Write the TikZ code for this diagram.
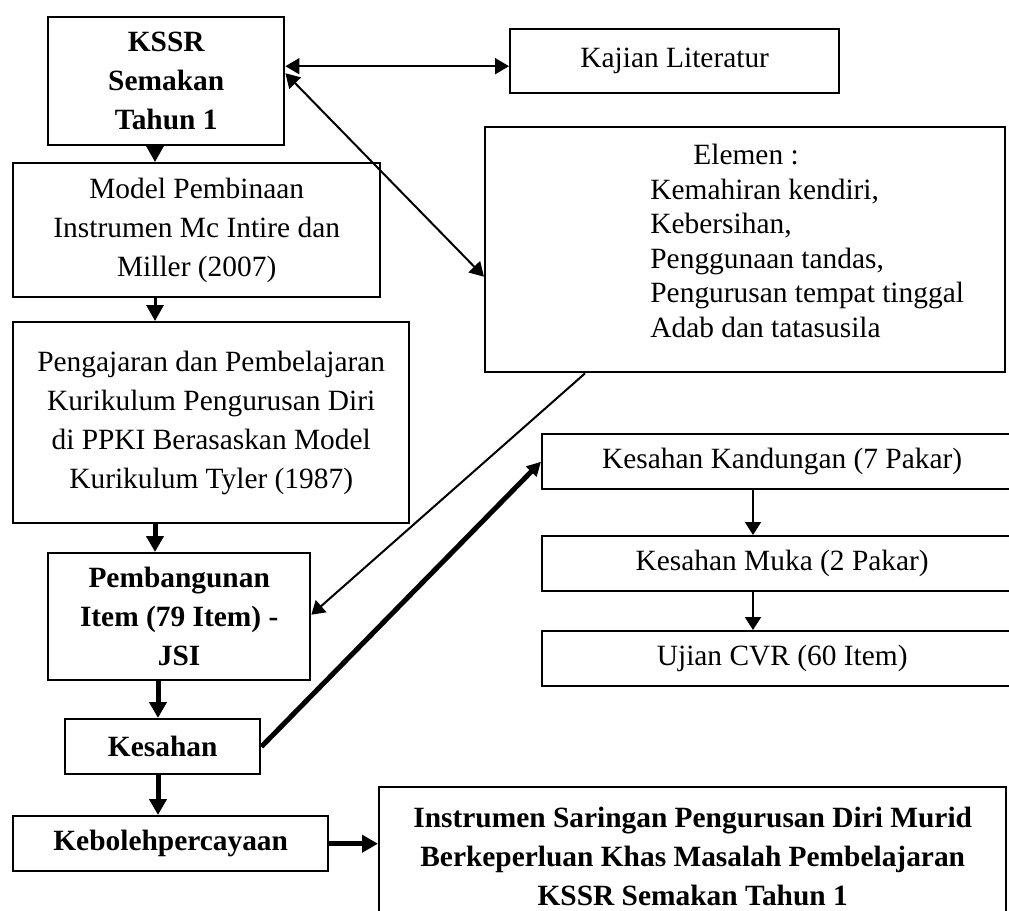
\documentclass[tikz,border=0pt]{standalone}
\usepackage{fontspec}
\setmainfont{Liberation Serif}
\usetikzlibrary{arrows.meta}
\tikzset{
  box/.style={draw,line width=1.2pt,inner sep=2pt,align=center,anchor=north west,
    font=\fontsize{14.7}{19.5}\selectfont},
  boldbox/.style={box,font=\fontsize{14.7}{19.5}\selectfont\bfseries},
  arr/.style={-{Triangle[length=8pt,width=8.5pt]},line width=1.5pt},
  thickarr/.style={-{Triangle[length=8pt,width=8.5pt]},line width=2.5pt},
  thinarr/.style={-{Triangle[length=6.5pt,width=8pt]},line width=1pt},
  eq/.style={{Triangle[length=7pt,width=8pt]}-{Triangle[length=7pt,width=8pt]},line width=1pt},
}

\begin{document}
\begin{tikzpicture}[x=0.5pt,y=-0.5pt]
  \useasboundingbox (0,0) rectangle (1009,911);
  \clip (0,0) rectangle (1009,911);
  % left column
  \node[boldbox,minimum width=118pt,minimum height=64pt] (kssr) at (47,16) {KSSR\\Semakan\\Tahun 1};
  \node[box,minimum width=183.5pt,minimum height=67pt] (model) at (12,162)
    {Model Pembinaan\\Instrumen Mc Intire dan\\Miller (2007)};
  \node[box,minimum width=198pt,minimum height=100.5pt] (ajar) at (12,321)
    {Pengajaran dan Pembelajaran\\Kurikulum Pengurusan Diri\\di PPKI Berasaskan Model\\Kurikulum Tyler (1987)};
  \node[boldbox,minimum width=131pt,minimum height=63.5pt] (bina) at (47,552)
    {Pembangunan\\Item (79 Item) -\\JSI};
  \node[boldbox,minimum width=97.5pt,minimum height=27.5pt] (sah) at (64,718) {Kesahan};
  \node[boldbox,minimum width=157.5pt,minimum height=27.5pt] (boleh) at (12,815) {Kebolehpercayaan};
  \node[boldbox,minimum width=313.5pt,minimum height=69pt] (hasil) at (378,786)
    {Instrumen Saringan Pengurusan Diri Murid\\Berkeperluan Khas Masalah Pembelajaran\\KSSR Semakan Tahun 1};
  % right side
  \node[box,minimum width=164.5pt,minimum height=32pt] (kajian) at (509,28) {Kajian Literatur};
  \node[box,minimum width=260pt,minimum height=122.5pt] (elemen) at (484,126) {};
  \node[anchor=north west,inner sep=0pt,align=left,font=\fontsize{14.7}{17.25}\selectfont]
    (elemlist) at (650,144)
    {\hspace*{21.5pt}Elemen :\\Kemahiran kendiri,\\Kebersihan,\\Penggunaan tandas,\\Pengurusan tempat tinggal\\Adab dan tatasusila};
  \node[box,minimum width=240pt,minimum height=27.5pt] (kandung) at (541,433) {Kesahan Kandungan (7 Pakar)};
  \node[box,minimum width=240pt,minimum height=27.5pt] (muka) at (541,535) {Kesahan Muka (2 Pakar)};
  \node[box,minimum width=240pt,minimum height=27.5pt] (ujian) at (541,630) {Ujian CVR (60 Item)};

  \coordinate (lx) at (155,0);
  \coordinate (mx) at (158,0);
  \coordinate (rx) at (753,0);

  % flow down the left
  \draw[arr] (lx |- kssr.south) -- (lx |- model.north);
  \draw[arr] (lx |- model.south) -- (lx |- ajar.north);
  \draw[thickarr] (lx |- ajar.south) -- (lx |- bina.north);
  \draw[thickarr] (mx |- bina.south) -- (mx |- sah.north);
  \draw[thickarr] (mx |- sah.south) -- (mx |- boleh.north);
  \draw[thickarr] (boleh.east) -- (boleh.east -| hasil.west);

  % links to the right
  \draw[eq] ([yshift=7.5pt]kssr.east) -- ([yshift=7.5pt]kssr.east -| kajian.west);
  \draw[eq] ([yshift=4pt]kssr.east) -- ([yshift=-13.5pt]elemen.west);
  \draw[thinarr] ([xshift=50.5pt]elemen.south west) -- ([yshift=1pt]bina.east);
  \draw[-{Triangle[length=7pt,width=7pt]},line width=2.5pt] (sah.east) -- (kandung.west);
  \draw[thinarr] (rx |- kandung.south) -- (rx |- muka.north);
  \draw[thinarr] (rx |- muka.south) -- (rx |- ujian.north);
\end{tikzpicture}
\end{document}
